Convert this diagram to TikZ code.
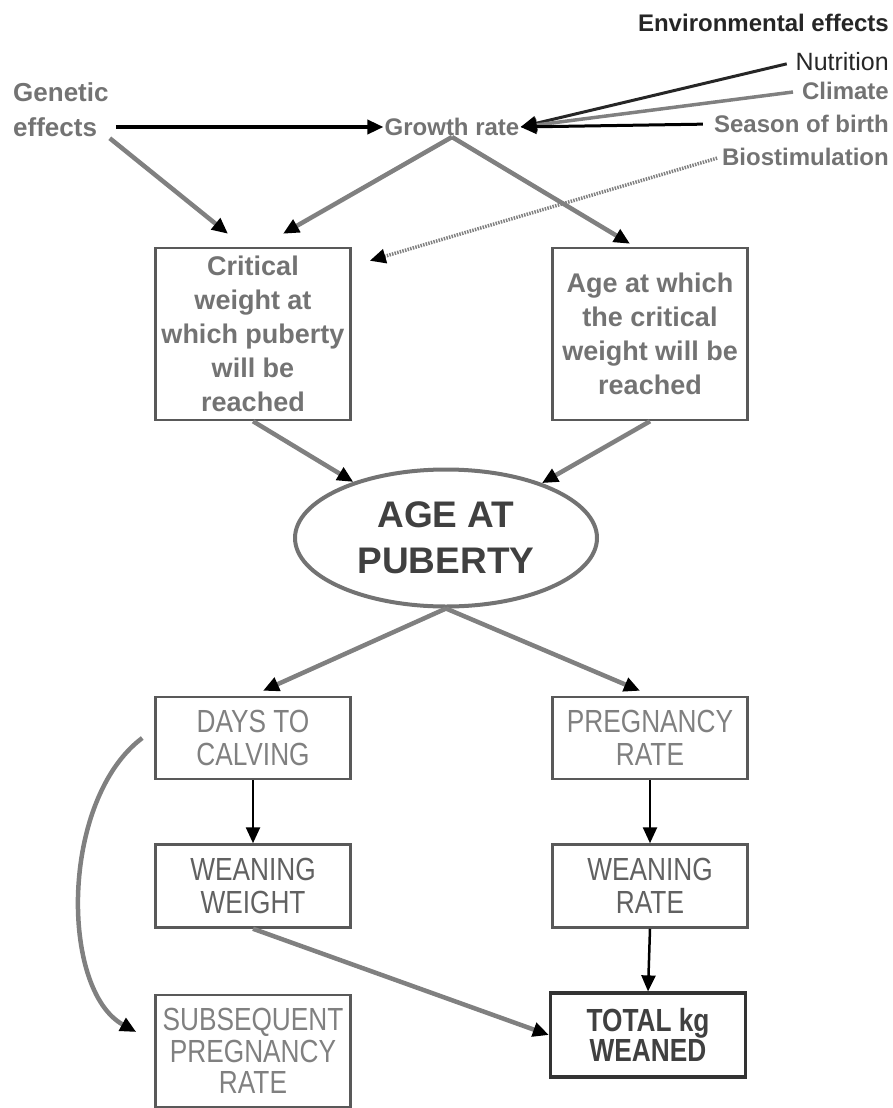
\documentclass[tikz,border=0pt]{standalone}
\usepackage{fontspec}
\setmainfont{Liberation Sans}
\newfontfamily\narrowsf[FakeStretch=0.82]{Liberation Sans}
\usepackage{tikz}
\usetikzlibrary{shapes.geometric, arrows.meta, positioning}

\begin{document}
\begin{tikzpicture}[x=1pt, y=-1pt,
    >={Triangle[length=16pt, width=14pt, color=black]},
    lbl/.style={font=\fontsize{24}{30}\selectfont\bfseries, text=black!55, inner sep=1pt},
    box/.style={draw=black!65, line width=2.5pt, minimum width=195pt, align=center, inner sep=2pt},
    upper/.style={box, minimum height=172pt, font=\fontsize{27}{34}\selectfont\bfseries, text=black!55},
    lower/.style={box, minimum height=82pt, font=\narrowsf\fontsize{32}{33}\selectfont, text=black!50},
    flow/.style={->, draw=black!50, line width=4.5pt},
    link/.style={->, draw=black, line width=2.5pt}]
  \useasboundingbox (0,0) rectangle (893,1108);

  \node[lbl, align=left, anchor=west, font=\fontsize{26}{35}\selectfont\bfseries] (gen) at (12,110) {Genetic\\effects};
  \node[lbl] (grow) at (452,127) {Growth rate};
  \node[lbl, anchor=east, text=black!85] (env) at (890,23) {Environmental effects};
  \node[lbl, anchor=east, text=black!85, font=\fontsize{25}{30}\selectfont] (nutr) at (890,62) {Nutrition};
  \node[lbl, anchor=east] (clim) at (890,91) {Climate};
  \node[lbl, anchor=east] (season) at (890,124) {Season of birth};
  \node[lbl, anchor=east] (bio) at (890,157) {Biostimulation};

  \node[upper] (crit) at (253,334) {Critical\\weight at\\which puberty\\will be\\reached};
  \node[upper] (agebox) at (650,334) {Age at which\\the critical\\weight will be\\reached};
  \node[ellipse, draw=black!55, line width=4pt, minimum width=302pt, minimum height=137pt,
        align=center, font=\fontsize{37}{46}\selectfont\bfseries, text=black!75] (pub) at (446,538) {AGE AT\\PUBERTY};

  \node[lower] (days) at (253,738) {DAYS TO\\CALVING};
  \node[lower] (preg) at (650,738) {PREGNANCY\\RATE};
  \node[lower, minimum height=83pt, text=black!62] (wwt) at (253,886) {WEANING\\WEIGHT};
  \node[lower, minimum height=83pt, text=black!62] (wrate) at (650,886) {WEANING\\RATE};
  \node[lower, minimum height=112pt, font=\narrowsf\fontsize{32}{31.5}\selectfont] (subseq) at (253,1051) {SUBSEQUENT\\PREGNANCY\\RATE};
  \node[lower, minimum height=84pt, line width=3.2pt, draw=black!80, text=black!75,
        font=\narrowsf\fontsize{32}{30}\selectfont\bfseries] (total) at (648,1035) {TOTAL kg\\WEANED};

  \draw[link, line width=3.5pt, shorten <=6pt] (gen.east |- grow.west) -- (grow.west);
  \draw[flow, draw=black!85, line width=3pt, shorten <=8pt] (nutr.west) -- (grow.east);
  \draw[flow, line width=3.5pt, shorten <=8pt] (clim.west) -- (grow.east);
  \draw[link, line width=3pt, shorten <=10pt] (season.west) -- (grow.east);
  \draw[flow, line width=3.5pt, dash pattern=on 1.5pt off 1.2pt, shorten <=4pt] (bio.west) -- ([xshift=18pt, yshift=-14pt]crit.north east);
  \draw[flow] (gen.south east) -- ([xshift=-25pt, yshift=13pt]crit.north);
  \draw[flow] (grow.south) -- ([xshift=30pt, yshift=13pt]crit.north);
  \draw[flow] (grow.south) -- ([xshift=-20pt, yshift=3pt]agebox.north);
  \draw[flow] (crit.south) -- (pub);
  \draw[flow] (agebox.south) -- (pub);
  \draw[flow] (pub.south) -- ([xshift=10pt, yshift=5pt]days.north);
  \draw[flow] (pub.south) -- ([xshift=-10pt, yshift=5pt]preg.north);
  \draw[link] (days.south) -- (wwt.north);
  \draw[link] (preg.south) -- (wrate.north);
  \draw[link] (wrate.south) -- (total.north);
  \draw[flow] (wwt.south) -- (total.west);
  \draw[flow] ([xshift=-12pt]days.west) .. controls (60,800) and (60,990) .. ([xshift=-18pt, yshift=19pt]subseq.west);
\end{tikzpicture}
\end{document}
